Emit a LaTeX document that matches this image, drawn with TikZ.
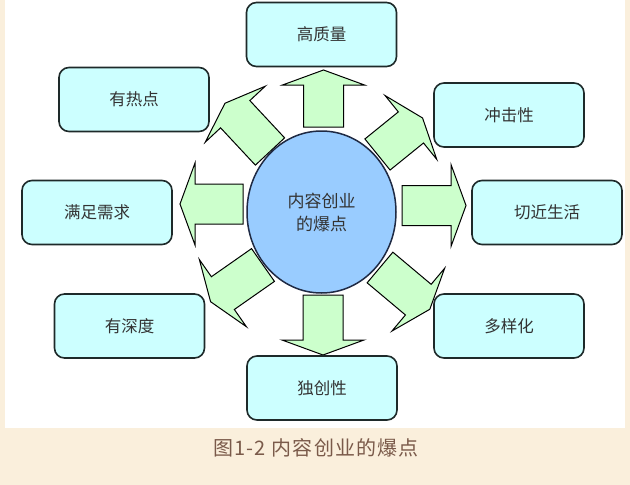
\documentclass[tikz,border=0pt]{standalone}
\usepackage{fontspec}
\newfontfamily\cjk{Noto Sans CJK SC}
\usetikzlibrary{shapes.geometric}
\definecolor{boxfill}{HTML}{CCFFFF}
\definecolor{boxline}{HTML}{1E2A2A}
\definecolor{hubfill}{HTML}{99CCFF}
\definecolor{hubline}{HTML}{1F2A44}
\definecolor{arrowfill}{HTML}{CCFFCC}
\definecolor{pagebg}{HTML}{FAEFDC}
\definecolor{captext}{HTML}{7A5A4A}
\definecolor{textgray}{HTML}{333333}
\tikzset{
  pointbox/.style={draw=boxline, fill=boxfill, line width=1.6pt, rounded corners=10pt,
    minimum width=150pt, minimum height=64pt, inner sep=0pt,
    font=\cjk\fontsize{16.5}{20}\selectfont, text=textgray},
  hub/.style={ellipse, draw=hubline, fill=hubfill, line width=1.5pt,
    minimum width=149pt, minimum height=162pt, inner sep=0pt, align=center,
    font=\cjk\fontsize{17}{23}\selectfont, text=textgray},
  blockarrow/.style={draw=black, fill=arrowfill, line width=1pt, line join=miter},
  caption/.style={font=\cjk\fontsize{20}{24}\selectfont\addfontfeature{LetterSpace=6}, text=captext}
}
\begin{document}
\begin{tikzpicture}[x=1pt, y=-1pt]
    \fill[pagebg] (0,0) rectangle (630,485);
    \fill[white] (5,0) rectangle (625,428);
    \coordinate (hubc) at (321.5,212);
    \foreach \dx/\dy/\ang/\len in {2/-85/90/57, 1.5/83/-90/60, 80.5/-6.5/0/64, -78.5/-8/180/63,
        56/-57.5/39/58, -51.5/-60.5/133/66, 58.5/55.5/-40/65, -58.5/53/215/64}
      \draw[blockarrow, shift={(hubc)}, shift={(\dx,\dy)}, rotate=\ang]
        (0,-20) -- (\len-15,-20) -- (\len-15,-41) -- (\len,0) -- (\len-15,41) -- (\len-15,20) -- (0,20) -- cycle;
    \node[hub] (hub) at (hubc) {内容创业\\的爆点};
    \node[pointbox] (quality) at (321.5,34.5) {高质量};
    \node[pointbox] (hot) at (134,99.5) {有热点};
    \node[pointbox] (impact) at (509,115) {冲击性};
    \node[pointbox] (needs) at (97,212.5) {满足需求};
    \node[pointbox] (life) at (547,212.5) {切近生活};
    \node[pointbox] (depth) at (129.5,326) {有深度};
    \node[pointbox] (variety) at (509,326) {多样化};
    \node[pointbox] (original) at (322,388) {独创性};
    \node[caption] (title) at (316,448) {图1-2 内容创业的爆点};
  \end{tikzpicture}
\end{document}
